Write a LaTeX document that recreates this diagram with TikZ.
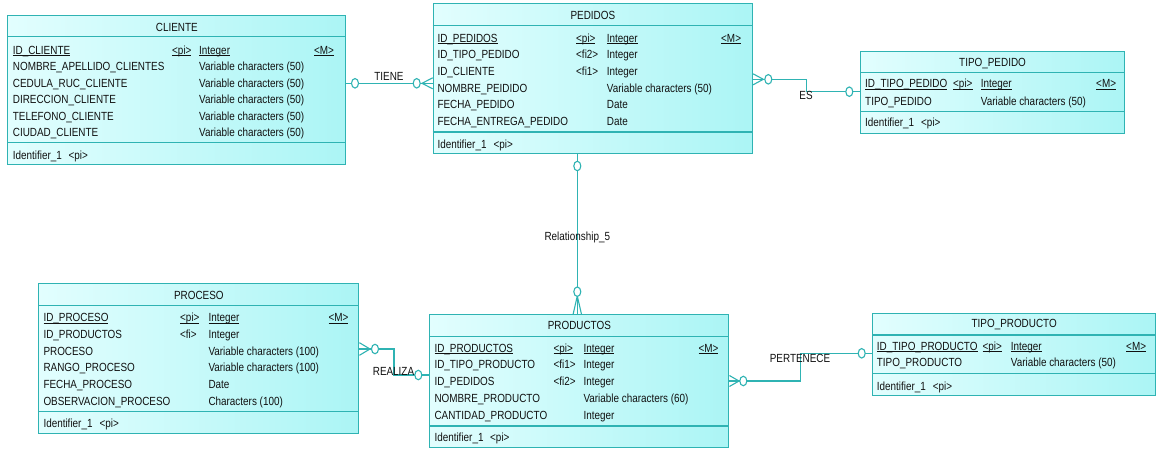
\documentclass[tikz,border=0pt]{standalone}
\usepackage{fontspec}
\setmainfont{Liberation Sans}[FakeStretch=0.84]
\usetikzlibrary{shapes.geometric}
\definecolor{edge}{HTML}{2FB3B3}
\definecolor{fillL}{HTML}{E2FEFE}
\definecolor{fillR}{HTML}{ABF5F5}
\definecolor{ink}{HTML}{111111}
\tikzset{
  entbox/.style={rectangle, draw=edge, line width=1.1pt, left color=fillL, right color=fillR,
                 inner sep=0pt, anchor=north west},
  txt/.style={font=\fontsize{11.8}{13}\selectfont, text=ink, inner sep=0pt,
              anchor=base west, yshift=-4.3pt},
  ttl/.style={txt, anchor=base},
  lbl/.style={txt, anchor=base},
  rel/.style={draw=edge, line width=1.1pt},
  ring/.style={ellipse, draw=edge, line width=1.1pt, fill=white,
               minimum width=7pt, minimum height=9.5pt, inner sep=0pt},
}
% one text cell of an entity box
\newcommand\cell[4]{\node[txt] (#1) at (#2,#3) {#4};}
% underline drawn just below the baseline
\newcommand\ulk[1]{\setbox0\hbox{#1}\hbox{\rlap{\copy0}\rule[-1.6pt]{\wd0}{0.6pt}}}
\begin{document}
\begin{tikzpicture}[x=1pt,y=-1pt]
\fill[white] (0,0) rectangle (1157,448);
\useasboundingbox (0,0) rectangle (1157,448);

% ---------- CLIENTE ----------
\node[entbox, minimum width=338pt, minimum height=149pt] (cliente) at (7.3,15) {};
\draw[rel] (cliente.west |- 0,36.7) -- (cliente.east |- 0,36.7);
\draw[rel] (cliente.west |- 0,142.7) -- (cliente.east |- 0,142.7);
\node[ttl] (cliente-t) at (cliente.north |- 0,26.7) {CLIENTE};
\cell{c1n}{12.7}{50}{\ulk{ID\_CLIENTE}}
\cell{c1k}{172}{50}{\ulk{<pi>}}
\cell{c1t}{199}{50}{\ulk{Integer}}
\cell{c1m}{314}{50}{\ulk{<M>}}
\cell{c2n}{12.7}{66.5}{NOMBRE\_APELLIDO\_CLIENTES}
\cell{c2t}{199}{66.5}{Variable characters (50)}
\cell{c3n}{12.7}{83}{CEDULA\_RUC\_CLIENTE}
\cell{c3t}{199}{83}{Variable characters (50)}
\cell{c4n}{12.7}{99.5}{DIRECCION\_CLIENTE}
\cell{c4t}{199}{99.5}{Variable characters (50)}
\cell{c5n}{12.7}{116}{TELEFONO\_CLIENTE}
\cell{c5t}{199}{116}{Variable characters (50)}
\cell{c6n}{12.7}{132.5}{CIUDAD\_CLIENTE}
\cell{c6t}{199}{132.5}{Variable characters (50)}
\cell{c7n}{12.7}{155}{Identifier\_1}
\cell{c7k}{68.3}{155}{<pi>}

% ---------- PEDIDOS ----------
\node[entbox, minimum width=319.3pt, minimum height=149.4pt] (pedidos) at (432.7,3.3) {};
\draw[rel] (pedidos.west |- 0,25.3) -- (pedidos.east |- 0,25.3);
\draw[rel] (pedidos.west |- 0,132) -- (pedidos.east |- 0,132);
\node[ttl] (pedidos-t) at (pedidos.north |- 0,15) {PEDIDOS};
\cell{p1n}{437.3}{37.7}{\ulk{ID\_PEDIDOS}}
\cell{p1k}{576}{37.7}{\ulk{<pi>}}
\cell{p1t}{606.7}{37.7}{\ulk{Integer}}
\cell{p1m}{721}{37.7}{\ulk{<M>}}
\cell{p2n}{437.3}{54}{ID\_TIPO\_PEDIDO}
\cell{p2k}{576}{54}{<fi2>}
\cell{p2t}{606.7}{54}{Integer}
\cell{p3n}{437.3}{71}{ID\_CLIENTE}
\cell{p3k}{576}{71}{<fi1>}
\cell{p3t}{606.7}{71}{Integer}
\cell{p4n}{437.3}{87.7}{NOMBRE\_PEIDIDO}
\cell{p4t}{606.7}{87.7}{Variable characters (50)}
\cell{p5n}{437.3}{104.3}{FECHA\_PEDIDO}
\cell{p5t}{606.7}{104.3}{Date}
\cell{p6n}{437.3}{121}{FECHA\_ENTREGA\_PEDIDO}
\cell{p6t}{606.7}{121}{Date}
\cell{p7n}{437.3}{144}{Identifier\_1}
\cell{p7k}{493.3}{144}{<pi>}

% ---------- TIPO_PEDIDO ----------
\node[entbox, minimum width=264pt, minimum height=81.7pt] (tipoped) at (860,51) {};
\draw[rel] (tipoped.west |- 0,72.7) -- (tipoped.east |- 0,72.7);
\draw[rel] (tipoped.west |- 0,111.7) -- (tipoped.east |- 0,111.7);
\node[ttl] (tipoped-t) at (tipoped.north |- 0,61.7) {TIPO\_PEDIDO};
\cell{tp1n}{865}{83.3}{\ulk{ID\_TIPO\_PEDIDO}}
\cell{tp1k}{953}{83.3}{\ulk{<pi>}}
\cell{tp1t}{980.7}{83.3}{\ulk{Integer}}
\cell{tp1m}{1096}{83.3}{\ulk{<M>}}
\cell{tp2n}{865}{100.7}{TIPO\_PEDIDO}
\cell{tp2t}{980.7}{100.7}{Variable characters (50)}
\cell{tp3n}{865}{122.3}{Identifier\_1}
\cell{tp3k}{921}{122.3}{<pi>}

% ---------- PROCESO ----------
\node[entbox, minimum width=320pt, minimum height=149.4pt] (proceso) at (38.3,283.3) {};
\draw[rel] (proceso.west |- 0,305.3) -- (proceso.east |- 0,305.3);
\draw[rel] (proceso.west |- 0,411.7) -- (proceso.east |- 0,411.7);
\node[ttl] (proceso-t) at (proceso.north |- 0,295) {PROCESO};
\cell{r1n}{43.3}{317.3}{\ulk{ID\_PROCESO}}
\cell{r1k}{180}{317.3}{\ulk{<pi>}}
\cell{r1t}{208.3}{317.3}{\ulk{Integer}}
\cell{r1m}{328.3}{317.3}{\ulk{<M>}}
\cell{r2n}{43.3}{334}{ID\_PRODUCTOS}
\cell{r2k}{180}{334}{<fi>}
\cell{r2t}{208.3}{334}{Integer}
\cell{r3n}{43.3}{350.7}{PROCESO}
\cell{r3t}{208.3}{350.7}{Variable characters (100)}
\cell{r4n}{43.3}{367.3}{RANGO\_PROCESO}
\cell{r4t}{208.3}{367.3}{Variable characters (100)}
\cell{r5n}{43.3}{384}{FECHA\_PROCESO}
\cell{r5t}{208.3}{384}{Date}
\cell{r6n}{43.3}{400.7}{OBSERVACION\_PROCESO}
\cell{r6t}{208.3}{400.7}{Characters (100)}
\cell{r7n}{43.3}{423.3}{Identifier\_1}
\cell{r7k}{99.3}{423.3}{<pi>}

% ---------- PRODUCTOS ----------
\node[entbox, minimum width=299pt, minimum height=132.4pt] (productos) at (429.3,314.3) {};
\draw[rel] (productos.west |- 0,336.7) -- (productos.east |- 0,336.7);
\draw[rel] (productos.west |- 0,426) -- (productos.east |- 0,426);
\node[ttl] (productos-t) at (productos.north |- 0,325) {PRODUCTOS};
\cell{d1n}{434.3}{347.7}{\ulk{ID\_PRODUCTOS}}
\cell{d1k}{553.3}{347.7}{\ulk{<pi>}}
\cell{d1t}{583.3}{347.7}{\ulk{Integer}}
\cell{d1m}{698.3}{347.7}{\ulk{<M>}}
\cell{d2n}{434.3}{364}{ID\_TIPO\_PRODUCTO}
\cell{d2k}{553.3}{364}{<fi1>}
\cell{d2t}{583.3}{364}{Integer}
\cell{d3n}{434.3}{381}{ID\_PEDIDOS}
\cell{d3k}{553.3}{381}{<fi2>}
\cell{d3t}{583.3}{381}{Integer}
\cell{d4n}{434.3}{398}{NOMBRE\_PRODUCTO}
\cell{d4t}{583.3}{398}{Variable characters (60)}
\cell{d5n}{434.3}{414.7}{CANTIDAD\_PRODUCTO}
\cell{d5t}{583.3}{414.7}{Integer}
\cell{d6n}{434.3}{436.7}{Identifier\_1}
\cell{d6k}{490}{436.7}{<pi>}

% ---------- TIPO_PRODUCTO ----------
\node[entbox, minimum width=282.7pt, minimum height=82.3pt] (tipoprod) at (872.3,312.7) {};
\draw[rel] (tipoprod.west |- 0,335) -- (tipoprod.east |- 0,335);
\draw[rel] (tipoprod.west |- 0,373.3) -- (tipoprod.east |- 0,373.3);
\node[ttl] (tipoprod-t) at (tipoprod.north |- 0,322.7) {TIPO\_PRODUCTO};
\cell{tr1n}{876.7}{345.7}{\ulk{ID\_TIPO\_PRODUCTO}}
\cell{tr1k}{982.3}{345.7}{\ulk{<pi>}}
\cell{tr1t}{1010.7}{345.7}{\ulk{Integer}}
\cell{tr1m}{1126}{345.7}{\ulk{<M>}}
\cell{tr2n}{876.7}{362.3}{TIPO\_PRODUCTO}
\cell{tr2t}{1010.7}{362.3}{Variable characters (50)}
\cell{tr3n}{876.7}{385.7}{Identifier\_1}
\cell{tr3k}{932.7}{385.7}{<pi>}

% ---------- TIENE: CLIENTE -- PEDIDOS ----------
\draw[rel] (cliente.east |- 0,83.3) -- (pedidos.west |- 0,83.3);
\draw[rel] (pedidos.west |- 0,77.8) -- (422,83.3) -- (pedidos.west |- 0,88.8);
\node[ring] (tiene-a) at (355,83.3) {};
\node[ring] (tiene-b) at (416.7,83.3) {};
\node[lbl] (tiene) at (389,76) {TIENE};

% ---------- ES: PEDIDOS -- TIPO_PEDIDO ----------
\draw[rel] (pedidos.east |- 0,79.3) -- (806.7,79.3) -- (806.7,91.7) -- (tipoped.west |- 0,91.7);
\draw[rel] (pedidos.east |- 0,73.8) -- (763.3,79.3) -- (pedidos.east |- 0,84.8);
\node[ring] (es-a) at (768.3,79.3) {};
\node[ring] (es-b) at (849.3,91.7) {};
\node[lbl] (es) at (806,95.5) {ES};

% ---------- Relationship_5: PEDIDOS -- PRODUCTOS ----------
\draw[rel] (pedidos.south -| 577.3,0) -- (productos.north -| 577.3,0);
\draw[rel] (productos.north -| 573.1,0) -- (577.3,296) -- (productos.north -| 581.5,0);
\node[ring] (r5-a) at (577.3,166) {};
\node[ring] (r5-b) at (577.3,291.7) {};
\node[lbl] (rel5) at (577.3,236) {Relationship\_5};

% ---------- REALIZA: PROCESO -- PRODUCTOS ----------
\draw[rel] (proceso.east |- 0,349) -- (394,349) -- (394,375) -- (productos.west |- 0,375);
\draw[rel] (proceso.east |- 0,342.7) -- (370,349) -- (proceso.east |- 0,355.3);
\node[ring] (realiza-a) at (375,349) {};
\node[ring] (realiza-b) at (418.3,375) {};
\node[lbl] (realiza) at (393.5,371.5) {REALIZA};

% ---------- PERTENECE: PRODUCTOS -- TIPO_PRODUCTO ----------
\draw[rel] (productos.east |- 0,381) -- (800.7,381) -- (800.7,353.3) -- (tipoprod.west |- 0,353.3);
\draw[rel] (productos.east |- 0,375.5) -- (739,381) -- (productos.east |- 0,386.5);
\node[ring] (pert-a) at (743.3,381) {};
\node[ring] (pert-b) at (861.7,353.3) {};
\node[lbl] (pertenece) at (800,358) {PERTENECE};
\end{tikzpicture}
\end{document}
